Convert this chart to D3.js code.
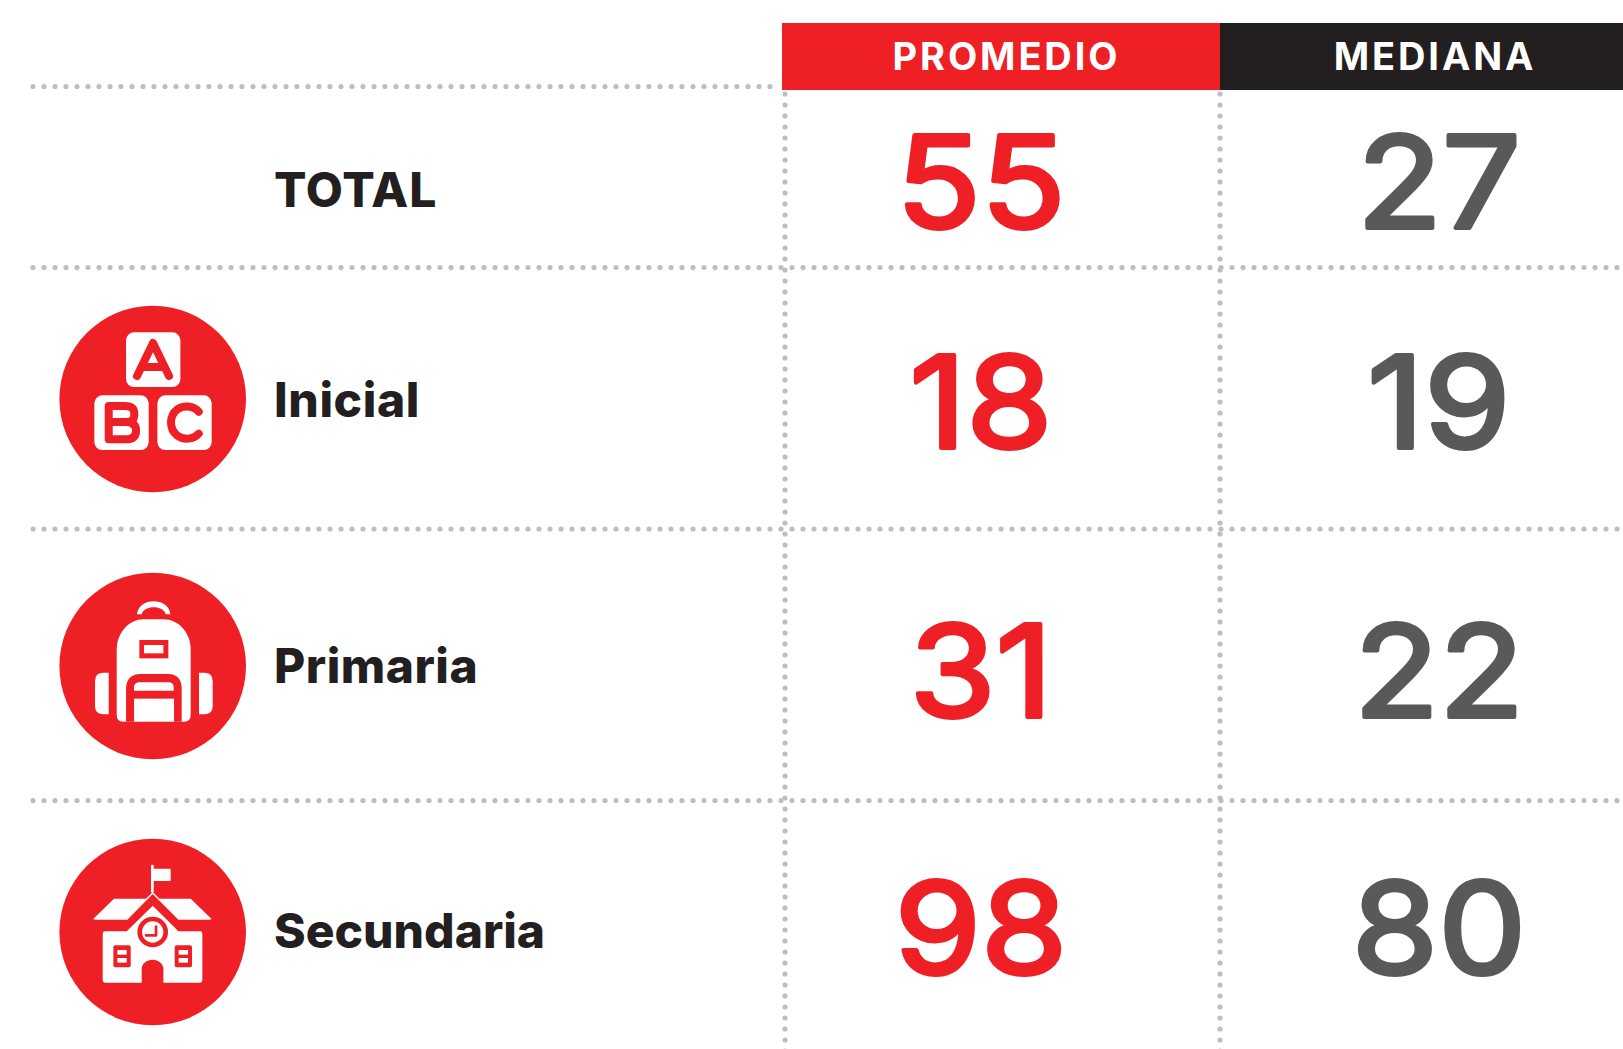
<!DOCTYPE html>
<html><head><meta charset="utf-8">
<script src="https://cdn.jsdelivr.net/npm/d3@7/dist/d3.min.js"></script>
<style>html,body{margin:0;background:#fff;overflow:hidden}svg{display:block}text{font-family:Inter,"Noto Sans",sans-serif}</style>
</head><body><script>
const categories = ["TOTAL","Inicial","Primaria","Secundaria"];
const headers = ["PROMEDIO","MEDIANA"];
const promedio = [55,18,31,98];
const mediana = [27,19,22,80];
const iconKeys = [null,"abc","bag","school"];

const RED="#ef1f26", DARK="#231f20", GREY="#58595b", DOT="#bcbec0";
const svg=d3.select("body").append("svg").attr("width",1623).attr("height",1049);

const rowY=d3.scaleOrdinal().domain(categories).range([189,399,665,930]);
const labelSpacing=d3.scaleOrdinal().domain(categories).range([1.4,1.1,1.0,0.5]);
const numY=d3.scaleOrdinal().domain(categories).range([180,400,669,926.5]);
const iconY=d3.scaleOrdinal().domain(categories).range([189,399,666,932]);
const colX=d3.scaleOrdinal().domain(headers).range([981,1439]);
const headX=d3.scaleOrdinal().domain(headers).range([1006.5,1435]);
const headRect=d3.scaleOrdinal().domain(headers).range([[782,1220],[1220,1623]]);
const headFill=d3.scaleOrdinal().domain(headers).range([RED,DARK]);

function R(s,x,y,w,h,r,f){s.append("rect").attr("x",x).attr("y",y).attr("width",w).attr("height",h).attr("rx",r).attr("fill",f);}
function P(s,d,f,st,sw){s.append("path").attr("d",d).attr("fill",f||"none").attr("stroke",st||"none").attr("stroke-width",sw||0).attr("stroke-linecap","round").attr("stroke-linejoin","round");}

// Icon artwork, in a 3x pictogram grid
const icons={
  abc(s){
    s=s.append("g").attr("transform","translate(-338,-328)");
    R(s,258,128,163,164,24,"#fff"); R(s,163,317,163,164,24,"#fff"); R(s,352,317,163,164,24,"#fff");
    P(s,"M291,259L339,160L387,259M306,232H372",null,RED,24);
    P(s,"M206,349H255Q283,349 283,374Q283,397 258,397Q288,397 288,423Q288,449 256,449H206ZM206,397H258",null,RED,24);
    P(s,"M476,366C460,348 430,345 411,360C387,379 387,418 411,437C430,452 460,450 476,432",null,RED,24);
  },
  bag(s){
    s=s.append("g").attr("transform","translate(-338,-318)");
    P(s,"M291,163C296,111 386,111 391,163H377C370,135 312,135 305,163Z","#fff");
    P(s,"M230,270C230,215 270,178 310,178H372C412,178 452,215 452,270V465Q452,485 432,485H250Q230,485 230,465Z","#fff");
    R(s,298,240,87,55,0,RED); R(s,312,255,58,25,0,"#fff");
    P(s,"M258,485V385C258,358 275,342 300,342H385C410,342 425,358 425,385V485Z",RED);
    P(s,"M282,392V382C282,372 290,367 298,367H385C395,367 401,372 401,382V392Z","#fff");
    R(s,282,416,120,69,0,"#fff");
    P(s,"M206,338H190Q165,338 165,363V438Q165,463 190,463H206Z","#fff");
    P(s,"M477,338H493Q518,338 518,363V438Q518,463 493,463H477Z","#fff");
  },
  school(s){
    s=s.append("g").attr("transform","translate(-338,-310)");
    R(s,333,108,8,84,3,"#fff"); R(s,338,120,54,37,3,"#fff");
    P(s,"M160,270L222,210H318L338,190L358,210H452L514,270L511,273H415L338,196L262,273H163Z","#fff");
    P(s,"M195,308H260L338,231L415,308H480Q487,308 487,315V455Q487,462 480,462H370V420C370,405 355,393 338,393C320,393 305,405 305,420V462H195Q188,462 188,455V315Q188,308 195,308Z","#fff");
    s.append("circle").attr("cx",338).attr("cy",310).attr("r",46).attr("fill",RED);
    s.append("circle").attr("cx",338).attr("cy",310).attr("r",32).attr("fill","#fff");
    P(s,"M348,294V320H318",null,RED,8);
    [220,404].forEach(x=>{
      R(s,x,350,52,66,6,RED); R(s,x+12,364,28,14,0,"#fff"); R(s,x+12,388,28,14,0,"#fff");
    });
  }
};

const dotted=(x1,y1,x2,y2)=>svg.append("line").attr("x1",x1).attr("y1",y1).attr("x2",x2).attr("y2",y2)
  .attr("stroke",DOT).attr("stroke-width",5.2).attr("stroke-linecap","round").attr("stroke-dasharray","0 11");
dotted(33,86.5,778,86.5);
[267.5,529,800.5].forEach(y=>dotted(33,y,1623,y));
[785,1220].forEach(x=>dotted(x,94,x,1055));

headers.forEach(h=>{
  const [a,b]=headRect(h);
  svg.append("rect").attr("x",a).attr("y",23).attr("width",b-a).attr("height",67).attr("fill",headFill(h));
  svg.append("text").attr("x",headX(h)).attr("y",69.5).attr("text-anchor","middle")
    .attr("fill","#fff").attr("font-size",38).attr("font-weight",700).attr("letter-spacing",2.9).text(h);
});

categories.forEach((c,i)=>{
  svg.append("text").attr("x",274).attr("y",rowY(c)+17.5)
    .attr("fill",DARK).attr("font-size",48).attr("font-weight",800).attr("letter-spacing",labelSpacing(c)-0.5).text(c);
  [[headers[0],promedio[i],RED],[headers[1],mediana[i],GREY]].forEach(([h,v,col])=>{
    svg.append("text").attr("transform",`translate(${colX(h)},${numY(c)+47.5}) scale(1.09,1)`).attr("text-anchor","middle")
      .attr("fill",col).attr("stroke",col).attr("stroke-width",4).attr("stroke-linejoin","round")
      .attr("font-size",128).attr("font-weight",400).text(v);
  });
  const k=iconKeys[i];
  if(k){
    const g=svg.append("g").attr("transform",`translate(152.7,${iconY(c)})`);
    g.append("circle").attr("r",93.3).attr("fill",RED);
    const s=g.append("g").attr("transform","scale(0.3333)");
    icons[k](s);
  }
});
</script>
</body></html>
